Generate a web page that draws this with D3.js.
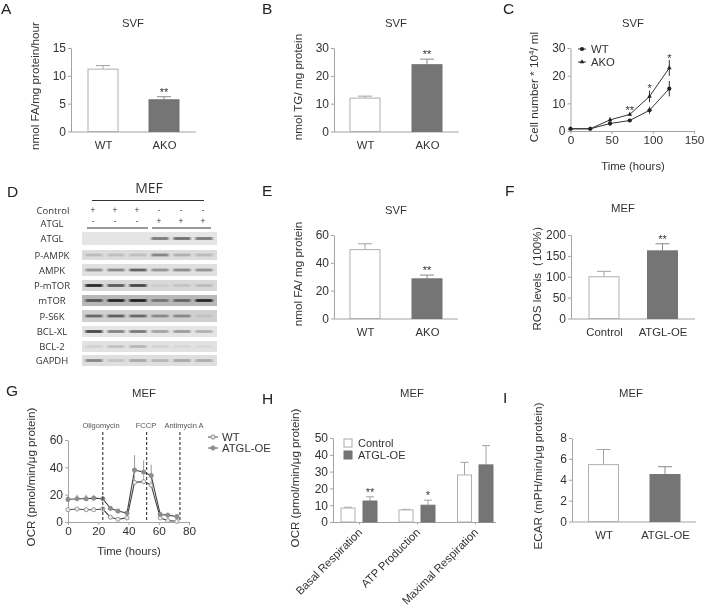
<!DOCTYPE html>
<html><head><meta charset="utf-8">
<style>html,body{margin:0;padding:0;background:#fff}svg{display:block;filter:blur(0.3px)}text{font-family:"Liberation Sans",Arial,sans-serif;fill:#333}</style>
<script src="https://cdn.jsdelivr.net/npm/d3@7"></script></head><body>
<svg id="c" width="704" height="608"></svg>
<script>
// ---- data ----
const wtAko = ["WT","AKO"];
const ctrlOe = ["Control","ATGL-OE"];
const wtOe = ["WT","ATGL-OE"];
const aValues = [11.2,5.7], aErrors = [0.65,0.55];
const bValues = [12,24], bErrors = [0.7,2];
const eValues = [49.5,28.5], eErrors = [4.2,2.7];
const fValues = [100,162], fErrors = [13,17];
const iValues = [5.45,4.5], iErrors = [1.45,0.75];
const cTimes = [0,24,48,72,96,120];
const cWT = [0.8,0.8,2.7,3.8,7.5,15.3], cWTerr = [0.3,0.2,0.8,0.4,1.3,2.8];
const cAKO = [0.8,0.8,4,6,12.5,22.8], cAKOerr = [0.3,0.2,0.9,0.5,2.1,2.9];
const cStars = [["**",72,7.6],["*",96,15.6],["*",120,26.4]];
const gTimes = [0,6,12,17,23,28,33,39,44,50,55,61,66,72];
const gWT = [9,9.5,9,9,9.5,3.5,2,3,29,29.5,27,3,1,0.5];
const gWTerr = [1,1,1,1,1,0.8,0.6,0.6,5,5,5,0.6,0.4,0.4];
const gOE = [16.5,17,17,17.5,17,10,8,6.5,38,36.5,34,5.5,5,4];
const gOEerr = [2.5,3,3,2,2,1,1,1,11,8.5,8,1,1,1];
const gDrugs = [["Oligomycin",23,101],["FCCP",52,146],["Antimycin A",74,184]];
const hGroups = ["Basal Respiration","ATP Production","Maximal Respiration"];
const hControl = [8.3,7.2,28], hControlErr = [0.5,0.3,7.5];
const hOE = [12.5,10,34], hOEErr = [2.5,3,11.5];
const hStars = ["**","*",""];
const blotRows = ["ATGL","P-AMPK","AMPK","P-mTOR","mTOR","P-S6K","BCL-XL","BCL-2","GAPDH"];
const blotBands = [
 [0,0,0,.5,.55,.5],
 [.16,.14,.14,.42,.22,.16],
 [.36,.42,.6,.36,.4,.36],
 [.88,.62,.72,.06,.1,.14],
 [.6,.85,.9,.4,.5,.85],
 [.55,.6,.55,.38,.38,.08],
 [.72,.45,.5,.3,.34,.24],
 [.08,.15,.2,.08,.05,.04],
 [.42,.12,.26,.2,.26,.24]
];
const blotBg = [.06,.1,.08,.115,.26,.15,.06,.07,.085];
const controlSigns = ["+","+","+","-","-","-"];
const atglSigns = ["-","-","-","+","+","+"];

// ---- drawing ----
const svg = d3.select("#c");
const AX = "#a3a3a3", DARK = "#757575";
svg.append("defs").append("filter").attr("id","bl").attr("x","-20%").attr("y","-150%").attr("width","140%").attr("height","400%")
  .append("feGaussianBlur").attr("stdDeviation","1.3 0.7");

function t(x,y,s,size,anchor,rot,extra){
  const e = svg.append("text").attr("font-size",size).attr("text-anchor",anchor||"middle");
  if(rot!==undefined && rot!==null) e.attr("transform",`translate(${x},${y}) rotate(${rot})`);
  else e.attr("x",x).attr("y",y);
  e.text(s);
  if(extra) extra(e);
  return e;
}
function letter(x,y,s){ t(x,y,s,15.5,"start").style("fill","#222"); }
function styleAxis(g,size){
  g.selectAll("path,line").attr("stroke",AX).attr("stroke-width",1);
  g.selectAll("text").attr("font-size",size||12).style("fill","#333");
}
function yAxis(x,y0,y1,domain,ticks){
  const s = d3.scaleLinear().domain(domain).range([y0,y1]);
  const g = svg.append("g").attr("transform",`translate(${x},0)`).call(d3.axisLeft(s).tickValues(ticks).tickSize(3).tickPadding(2).tickSizeOuter(0));
  styleAxis(g,12);
  return s;
}
function barPanel(o){
  const y = yAxis(o.x,o.y0,o.y1,o.domain,o.ticks);
  const x = d3.scalePoint().domain(o.cats).range(o.centers);
  const g = svg.append("g").attr("transform",`translate(0,${o.y0})`)
    .call(d3.axisBottom(x).tickSize(0).tickPadding(9));
  g.select("path").remove();
  styleAxis(g,11.3);
  svg.append("line").attr("x1",o.x).attr("x2",o.xEnd).attr("y1",o.y0+.5).attr("y2",o.y0+.5).attr("stroke",AX);
  const w = 30;
  o.cats.forEach((c,i)=>{
    const cx = x(c), top = y(o.values[i]), et = y(o.values[i]+o.errors[i]);
    svg.append("line").attr("x1",cx).attr("x2",cx).attr("y1",top).attr("y2",et).attr("stroke",i? "#8a8a8a":AX);
    svg.append("line").attr("x1",cx-7).attr("x2",cx+7).attr("y1",et).attr("y2",et).attr("stroke",i? "#8a8a8a":AX);
    svg.append("rect").attr("x",cx-w/2).attr("y",top).attr("width",w).attr("height",o.y0-top)
      .attr("fill",i?DARK:"#fff").attr("stroke",i?DARK:"#b0b0b0");
    if(o.star && i===o.star.i) t(cx,et-1,o.star.s,11);
  });
  t(o.titleX,o.titleY,o.title,11.3);
  t(o.labX,o.labY,o.label,o.labSize||11.7,"middle",-90);
}
function errs(g,x,y,xs,ys,es,col,up){
  xs.forEach((d,i)=>{
    g.append("line").attr("x1",x(d)).attr("x2",x(d)).attr("y1",y(ys[i]+es[i])).attr("y2",y(up?ys[i]:ys[i]-es[i])).attr("stroke",col).attr("stroke-width",1);
  });
}

barPanel({x:71,xEnd:196,y0:131.5,y1:48,domain:[0,15],ticks:[0,5,10,15],cats:wtAko,centers:[103,164],values:aValues,errors:aErrors,star:{i:1,s:"**"},title:"SVF",titleX:133,titleY:27,label:"nmol FA/mg protein/hour",labX:39,labY:86});
barPanel({x:334,xEnd:459,y0:131.5,y1:48,domain:[0,30],ticks:[0,10,20,30],cats:wtAko,centers:[365,427],values:bValues,errors:bErrors,star:{i:1,s:"**"},title:"SVF",titleX:396,titleY:27,label:"nmol TG/ mg protein",labX:302,labY:87});
barPanel({x:334,xEnd:458,y0:318.5,y1:235,domain:[0,60],ticks:[0,20,40,60],cats:wtAko,centers:[365,427],values:eValues,errors:eErrors,star:{i:1,s:"**"},title:"SVF",titleX:396,titleY:214,label:"nmol FA/ mg protein",labX:302,labY:274});
barPanel({x:571,xEnd:695,y0:318.5,y1:235,domain:[0,200],ticks:[0,50,100,150,200],cats:ctrlOe,centers:[604,662.5],values:fValues,errors:fErrors,star:{i:1,s:"**"},title:"MEF",titleX:623,titleY:212,label:"ROS levels（100%）",labX:541,labY:275,labSize:11.5});
barPanel({x:572,xEnd:696,y0:521.5,y1:438,domain:[0,8],ticks:[0,2,4,6,8],cats:wtOe,centers:[603.5,665],values:iValues,errors:iErrors,title:"MEF",titleX:631,titleY:397,label:"ECAR (mPH/min/μg protein)",labX:542,labY:476,labSize:11.7});

// Panel C
{
  const y = yAxis(570.5,131,48,[0,30],[0,10,20,30]);
  const x = d3.scaleLinear().domain([0,150]).range([570.5,694]);
  const g = svg.append("g").attr("transform","translate(0,131)").call(d3.axisBottom(x).tickValues([0,50,100,150]).tickSize(3).tickPadding(2).tickSizeOuter(0));
  styleAxis(g,11.8);
  const pl = svg.append("g");
  const line = ys => d3.line().x((d,i)=>x(cTimes[i])).y(d=>y(d))(ys);
  [[cWT,cWTerr,d3.symbolCircle,14],[cAKO,cAKOerr,d3.symbolTriangle,9]].forEach(([v,e,sym,size])=>{
    errs(pl,x,y,cTimes,v,e,"#333");
    pl.append("path").attr("d",line(v)).attr("fill","none").attr("stroke","#333").attr("stroke-width",1);
    cTimes.forEach((d,i)=>pl.append("path").attr("d",d3.symbol().type(sym).size(size)()).attr("transform",`translate(${x(d)},${y(v[i])})`).attr("fill","#222"));
  });
  cStars.forEach(s=>t(x(s[1]),y(s[2])+4,s[0],11));
  [[49,"WT",d3.symbolCircle,14],[62,"AKO",d3.symbolTriangle,9]].forEach(([ly,s,sym,size])=>{
    pl.append("line").attr("x1",578).attr("x2",586).attr("y1",ly).attr("y2",ly).attr("stroke","#333");
    pl.append("path").attr("d",d3.symbol().type(sym).size(size)()).attr("transform",`translate(582,${ly})`).attr("fill","#222");
    t(591,ly+4,s,11.3,"start");
  });
  t(633,27,"SVF",11.3);
  t(633,170,"Time (hours)",11.3);
  t(538,87,"",11.7,"middle",-90,e=>{
    e.append("tspan").text("Cell number * 10");
    e.append("tspan").text("4").attr("font-size",8).attr("dy",-4);
    e.append("tspan").text("/ ml").attr("dy",4);
  });
}

// Panel G
{
  const y = yAxis(68,522,440,[0,60],[0,20,40,60]);
  const x = d3.scaleLinear().domain([0,80]).range([68,189]);
  const g = svg.append("g").attr("transform","translate(0,522)").call(d3.axisBottom(x).tickValues([0,20,40,60,80]).tickSize(3).tickPadding(2).tickSizeOuter(0));
  styleAxis(g,11.8);
  const pl = svg.append("g");
  errs(pl,x,y,gTimes,gWT,gWTerr,"#aaa",true);
  errs(pl,x,y,gTimes,gOE,gOEerr,"#999",true);
  const line = ys => d3.line().x((d,i)=>x(gTimes[i])).y(d=>y(d))(ys);
  [[gWT,"#ededed","#999"],[gOE,"#8f8f8f","#888"]].forEach(([v,f,st])=>{
    pl.append("path").attr("d",line(v)).attr("fill","none").attr("stroke","#444").attr("stroke-width",1.1);
    gTimes.forEach((d,i)=>pl.append("circle").attr("cx",x(d)).attr("cy",y(v[i])).attr("r",2.1).attr("fill",f).attr("stroke",st));
  });
  gDrugs.forEach(d=>{
    pl.append("line").attr("x1",x(d[1])).attr("x2",x(d[1])).attr("y1",432).attr("y2",522).attr("stroke","#333").attr("stroke-width",1.1).attr("stroke-dasharray","3 2");
    t(d[2],428,d[0],7.5).style("fill","#555");
  });
  [[437,"WT","#ededed"],[448,"ATGL-OE","#8f8f8f"]].forEach(([ly,s,f])=>{
    pl.append("line").attr("x1",208).attr("x2",218).attr("y1",ly).attr("y2",ly).attr("stroke","#555");
    pl.append("circle").attr("cx",213).attr("cy",ly).attr("r",2.1).attr("fill",f).attr("stroke","#888");
    t(222,ly+4,s,11.3,"start");
  });
  t(144,397,"MEF",11.3);
  t(129,555,"Time (hours)",11.3);
  t(35,477,"OCR (pmol/min/μg protein)",11.6,"middle",-90);
}

// Panel H
{
  const y = yAxis(333,522,438,[0,50],[0,10,20,30,40,50]);
  const x = d3.scalePoint().domain(hGroups).range([359,475]);
  const g = svg.append("g").attr("transform","translate(0,522)").call(d3.axisBottom(x).tickSize(2.5).tickFormat("").tickSizeOuter(0));
  g.select("path").remove();
  styleAxis(g);
  svg.append("line").attr("x1",333).attr("x2",496).attr("y1",522.5).attr("y2",522.5).attr("stroke",AX);
  const w = 14, off = 11;
  hGroups.forEach((c,i)=>{
    [[hControl,hControlErr,-off,"#fff","#b0b0b0"],[hOE,hOEErr,off,DARK,DARK]].forEach(([v,e,d,f,st])=>{
      const cx = x(c)+d-(i==2&&d<0?-.5:0), top = y(v[i]), et = y(v[i]+e[i]);
      svg.append("line").attr("x1",cx).attr("x2",cx).attr("y1",top).attr("y2",et).attr("stroke",AX);
      svg.append("line").attr("x1",cx-4).attr("x2",cx+4).attr("y1",et).attr("y2",et).attr("stroke",AX);
      svg.append("rect").attr("x",cx-w/2).attr("y",top).attr("width",w).attr("height",522-top).attr("fill",f).attr("stroke",st);
    });
    if(hStars[i]) t(x(c)+off,y(hOE[i]+hOEErr[i])-1,hStars[i],11);
    t(x(c)+4,533,c,11.3,"end",-45);
  });
  [[439,"Control","#fff","#aaa"],[451,"ATGL-OE",DARK,DARK]].forEach(([ly,s,f,st])=>{
    svg.append("rect").attr("x",344).attr("y",ly).attr("width",8).attr("height",8).attr("fill",f).attr("stroke",st);
    t(358,ly+8,s,11,"start");
  });
  t(412,397,"MEF",11.3);
  t(299,478,"OCR (pmol/min/μg protein)",11.6,"middle",-90);
}

// Panel D (blot)
{
  const cols = d3.scalePoint().domain(d3.range(6)).range([94,204]);
  const rowTops = [232,250,264,280,295,310,326,341,355];
  const rowH = [13,10,12,11,11,12,11,11,11];
  const lab = (x,y,s,size)=>t(x,y,s,size||9.5).style("font-family","'Open Sans'").style("fill","#333");
  const grey = d3.scaleLinear().domain([0,1]).range(["#f2f2f2","#111"]);
  blotRows.forEach((r,i)=>{
    svg.append("rect").attr("x",82).attr("y",rowTops[i]).attr("width",135).attr("height",rowH[i]).attr("fill",grey(blotBg[i]));
    blotBands[i].forEach((b,j)=>{
      if(b>0) svg.append("rect").attr("x",cols(j)-8.5).attr("y",rowTops[i]+rowH[i]/2-1.4).attr("width",17).attr("height",2.8)
        .attr("fill",grey(Math.min(1,blotBg[i]+b*(1-blotBg[i])))).attr("filter","url(#bl)");
    });
    lab(52,rowTops[i]+rowH[i]/2+3.5,r);
  });
  lab(149,193,"MEF",14);
  svg.append("line").attr("x1",92).attr("x2",204).attr("y1",200.5).attr("y2",200.5).attr("stroke","#333");
  lab(53,214,"Control");
  lab(52,227,"ATGL");
  controlSigns.forEach((s,j)=>lab(cols(j)-1,213,s,8.5));
  atglSigns.forEach((s,j)=>lab(cols(j)-1,224,s,8.5));
  [[87,148],[152,211]].forEach(([a,b])=>svg.append("line").attr("x1",a).attr("x2",b).attr("y1",228).attr("y2",228).attr("stroke","#333"));
}

[[1,14,"A"],[262,14,"B"],[503,14,"C"],[7,197,"D"],[262,196,"E"],[505,196,"F"],[6,396,"G"],[262,404,"H"],[503,403,"I"]].forEach(d=>letter(d[0],d[1],d[2]));
</script></body></html>
